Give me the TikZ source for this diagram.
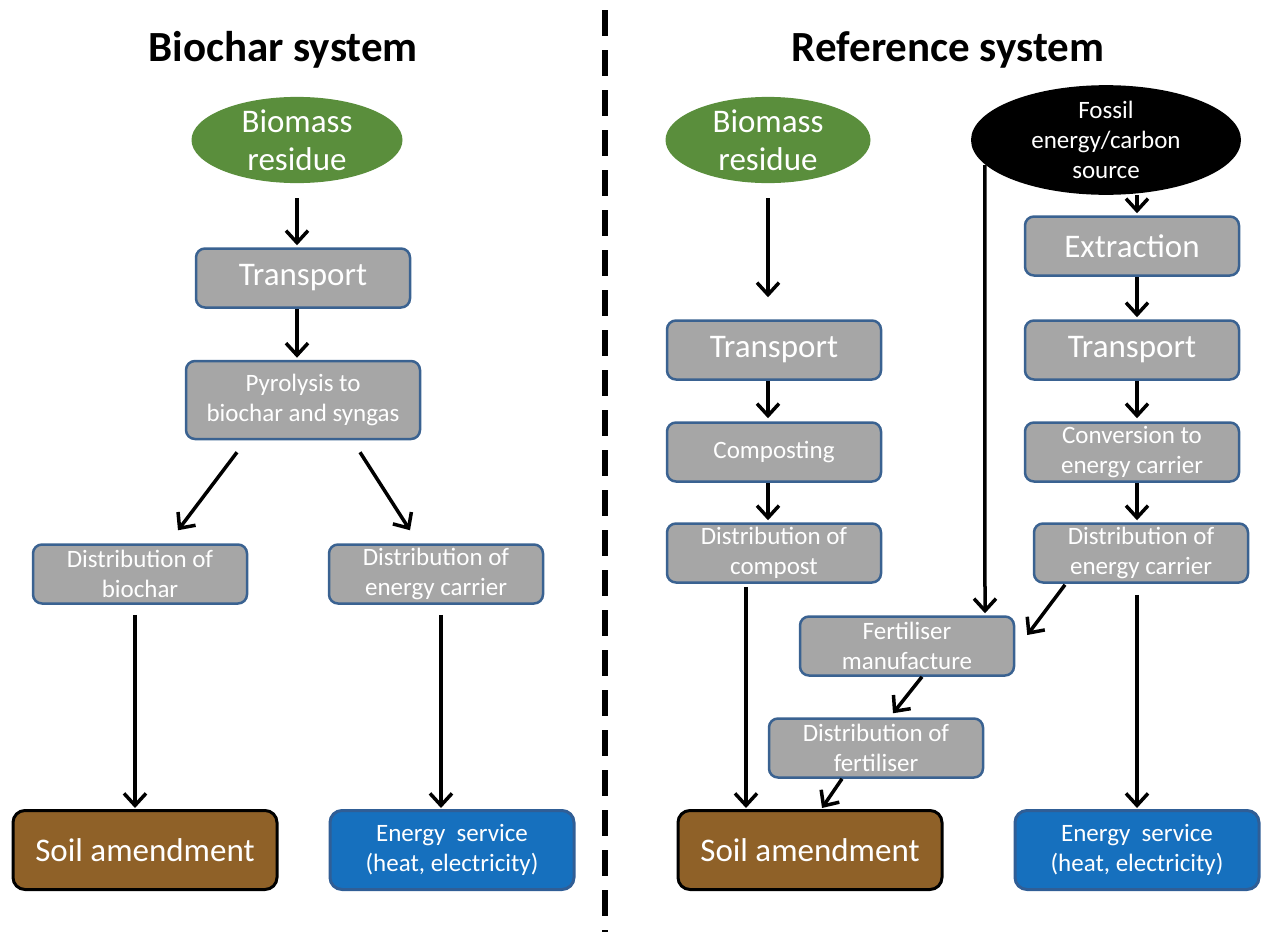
\documentclass[tikz,border=0pt]{standalone}
\usepackage{fontspec}
\setmainfont{Carlito}
\usetikzlibrary{arrows.meta, shapes.geometric, calc}
\definecolor{leafgreen}{RGB}{90,142,60}
\definecolor{boxgray}{RGB}{166,166,166}
\definecolor{boxline}{RGB}{58,98,145}
\definecolor{soilbrown}{RGB}{143,97,40}
\definecolor{servblue}{RGB}{22,112,190}
\definecolor{servline}{RGB}{48,94,150}

\begin{document}
\begin{tikzpicture}[x=1pt, y=-1pt,
	proc/.style={rectangle, rounded corners=9pt, draw=boxline, line width=2.5pt, fill=boxgray, text=white, align=center, minimum width=214pt, minimum height=59pt, inner sep=0pt},
	big/.style={font=\fontsize{33}{38}\selectfont},
	small/.style={font=\fontsize{25}{30}\selectfont},
	source/.style={ellipse, text=white, align=center, inner sep=0pt},
	final/.style={rectangle, rounded corners=12pt, line width=3pt, text=white, align=center, minimum width=264pt, minimum height=79pt, inner sep=0pt},
	flow/.style={line width=3.5pt, -{Straight Barb[length=12pt, width=22pt, line width=3.5pt]}},
	title/.style={font=\fontsize{43}{48}\selectfont\bfseries}]
			\useasboundingbox (0,0) rectangle (1261,932);
			\draw[line width=6pt, dash pattern=on 26pt off 14pt] (605,10) -- (605,932);
			\node[title] (titleL) at (283,50) {Biochar system};
			\node[title] (titleR) at (948,50) {Reference system};
			\node[source, big, fill=leafgreen, minimum width=211pt, minimum height=80pt] (bioL) at (297,140) {Biomass\\residue};
			\node[proc, big] (transL) at (303,278) {Transport};
			\node[proc, small, minimum width=234pt, minimum height=78pt] (pyro) at (303,400) {Pyrolysis to\\biochar and syngas};
			\node[proc, small] (distB) at (140,574) {Distribution of\\biochar};
			\node[proc, small] (distEL) at (436,574) {Distribution of\\energy carrier};
			\node[final, big, draw=black, fill=soilbrown] (soilL) at (145,850) {Soil amendment};
			\node[final, small, draw=servline, fill=servblue, minimum width=244pt] (servL) at (452,850) {Energy~ service\\(heat, electricity)};
			\draw[flow] ($(bioL.south)+(0,15)$) -- ($(transL.north)+(-6,-2)$);
			\draw[flow] ($(transL.south)+(-6,0)$) -- ($(pyro.north)+(-6,-2)$);
			\draw[flow] ($(pyro.south)+(-66,12)$) -- ($(distB.north)+(38,-13)$);
			\draw[flow] ($(pyro.south)+(57,12)$) -- ($(distEL.north)+(-26,-13)$);
			\draw[flow] ($(distB.south)+(-5,10)$) -- ($(soilL.north)+(-10,-1)$);
			\draw[flow] ($(distEL.south)+(5,10)$) -- ($(servL.north)+(-11,-1)$);
			\node[source, big, fill=leafgreen, minimum width=205pt, minimum height=80pt] (bioR) at (768,140) {Biomass\\residue};
			\node[source, small, fill=black, minimum width=270pt, minimum height=95pt] (fossil) at (1106,140) {Fossil\\energy/carbon\\source};
			\node[proc, big] (transR) at (774,350) {Transport};
			\node[proc, small] (compost) at (774,452) {Composting};
			\node[proc, small] (distC) at (774,553) {Distribution of\\compost};
			\node[proc, big] (extract) at (1132,246) {Extraction};
			\node[proc, big] (transF) at (1132,350) {Transport};
			\node[proc, small] (convert) at (1132,452) {Conversion to\\energy carrier};
			\node[proc, small] (distER) at (1141,553) {Distribution of\\energy carrier};
			\node[proc, small] (fert) at (907,646) {Fertiliser\\manufacture};
			\node[proc, small] (distF) at (876,748) {Distribution of\\fertiliser};
			\node[final, big, draw=black, fill=soilbrown] (soilR) at (810,850) {Soil amendment};
			\node[final, small, draw=servline, fill=servblue, minimum width=244pt] (servR) at (1137,850) {Energy~ service\\(heat, electricity)};
			\draw[flow] ($(bioR.south)+(0,15)$) -- ($(transR.north)+(-6,-22)$);
			\draw[flow] ($(transR.south)+(-6,0)$) -- ($(compost.north)+(-6,-3)$);
			\draw[flow] ($(compost.south)+(-6,0)$) -- ($(distC.north)+(-6,-2)$);
			\draw[flow] ($(distC.south)+(-28,3)$) -- ($(soilR.north)+(-64,-1)$);
			\draw[flow] ($(fossil.south)+(31,0)$) -- ($(extract.north)+(5,-2)$);
			\draw[flow] ($(extract.south)+(5,0)$) -- ($(transF.north)+(5,-2)$);
			\draw[flow] ($(transF.south)+(5,0)$) -- ($(convert.north)+(5,-3)$);
			\draw[flow] ($(convert.south)+(5,0)$) -- ($(distER.north)+(-4,-2)$);
			\draw[flow] ($(distER.south)+(-4,11)$) -- ($(servR.north)+(0,-1)$);
			\draw[flow] ($(fossil.west)+(14,25)$) -- ($(fert.north)+(78,-2)$);
			\draw[flow] ($(distER.south)+(-76,1)$) -- ($(fert.east)+(12,-11)$);
			\draw[flow] ($(fert.south)+(15,0)$) -- ($(distF.north)+(17,-4)$);
			\draw[flow] ($(distF.south)+(-34,0)$) -- ($(soilR.north)+(12,-1)$);
\end{tikzpicture}
\end{document}
